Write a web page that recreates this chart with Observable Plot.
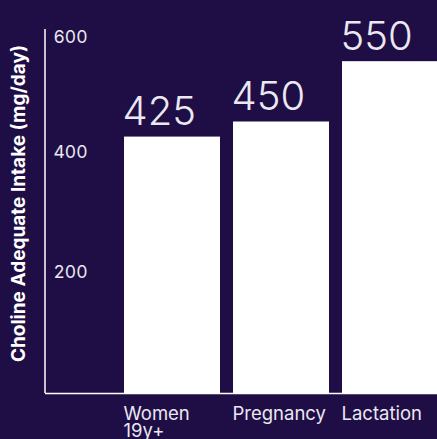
<!DOCTYPE html>
<html><head><meta charset="utf-8">
<script src="https://cdn.jsdelivr.net/npm/d3@7"></script>
<script src="https://cdn.jsdelivr.net/npm/@observablehq/plot@0.6"></script>
<style>
html,body{margin:0;padding:0;background:#1f0e45;}
</style></head><body><div id="chart"></div>
<script>
const categories = ["Women 19y+", "Pregnancy", "Lactation"];
const values = [425, 450, 550];
const yTicks = [200, 400, 600];
const yTitle = "Choline Adequate Intake (mg/day)";
const data = categories.map((c, i) => ({category: c, value: values[i]}));

const BG = "#1f0e45", FG = "#ffffff", TXT = "#ebe8f2";
const font = "Inter, 'Noto Sans', sans-serif";

const axisLine = (index, scales, vals, dims) => {
  const g = d3.create("svg:g").attr("stroke", FG).attr("stroke-width", 1.5);
  const x0 = dims.marginLeft;
  g.append("line").attr("x1", x0).attr("x2", x0)
    .attr("y1", scales.y(600) - 2).attr("y2", dims.height - dims.marginBottom);
  return g.node();
};

const chart = Plot.plot({
  width: 437,
  height: 439,
  marginLeft: 45,
  marginRight: 0,
  marginTop: 31,
  marginBottom: 46,
  style: {background: BG, color: TXT, fontFamily: font, overflow: "visible"},
  x: {type: "band", domain: categories, range: [124, 438], paddingInner: 0.12, paddingOuter: 0, axis: null},
  y: {domain: [0, 600], axis: null},
  marks: [
    Plot.barY(data, {x: "category", y: "value", fill: FG}),
    Plot.ruleY([0], {stroke: FG, strokeWidth: 1.5}),
    axisLine,
    Plot.axisY(yTicks.slice(0, 2), {tickSize: 0, tickPadding: 0, textAnchor: "start", dx: 8, fontSize: 17.5,
      style: {letterSpacing: "0.6px"}, fill: TXT, label: null}),
    Plot.axisY(yTicks.slice(2), {tickSize: 0, tickPadding: 0, textAnchor: "start", dx: 8, dy: 6, fontSize: 17.5,
      style: {letterSpacing: "0.6px"}, fill: TXT, label: null}),
    Plot.axisX({tickSize: 0, tickPadding: 14, textAnchor: "start", dx: -49, fontSize: 18.5, lineHeight: 0.92, fill: TXT, label: null,
      style: {letterSpacing: "0.6px"}, tickFormat: d => d.replace(" ", "\n")}),
    Plot.text(data, {x: "category", y: "value", text: d => String(d.value), textAnchor: "start", dx: -50, dy: -12,
      lineAnchor: "bottom", fontSize: 40, fontWeight: 300, fill: TXT, style: {letterSpacing: "2px"}}),
    Plot.text([yTitle], {frameAnchor: "left", textAnchor: "middle", dx: -27, dy: -9, rotate: -90, fontSize: 19, fontWeight: 700, fill: FG})
  ]
});
document.getElementById("chart").append(chart);
</script></body></html>
